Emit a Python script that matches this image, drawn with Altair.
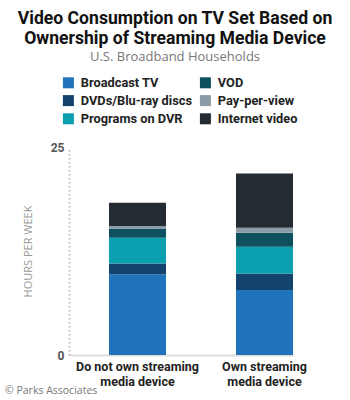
import altair as alt
import pandas as pd

groups = ["Do not own streaming|media device", "Own streaming|media device"]
sources = ["Broadcast TV", "DVDs/Blu-ray discs", "Programs on DVR", "VOD", "Pay-per-view", "Internet video"]
no_device = [9.7, 1.3, 3.1, 1.1, 0.3, 2.8]
own_device = [7.8, 2.0, 3.2, 1.7, 0.6, 6.5]
source_colors = ["#2074bc", "#13426c", "#0aa0b0", "#0e505e", "#8c9ca6", "#252b33"]

rows = []
for g, vals in zip(groups, [no_device, own_device]):
    for i, (s, v) in enumerate(zip(sources, vals)):
        rows.append({"group": g, "source": s, "hours": v, "order": i})
df = pd.DataFrame(rows)

FONT = "Roboto"

bars = alt.Chart(df).mark_bar().encode(
    x=alt.X("group:N", sort=groups,
            scale=alt.Scale(paddingInner=0.551, paddingOuter=0.1575, align=1),
            axis=alt.Axis(title=None, labelExpr="split(datum.label, '|')", labelAngle=0,
                          ticks=False, domainColor="#dddddd", domainWidth=2,
                          labelFont=FONT, labelFontWeight="bold", labelFontSize=12.5,
                          labelColor="#222222", labelPadding=5, labelLineHeight=15)),
    y=alt.Y("hours:Q", stack="zero", scale=alt.Scale(domain=[0, 25], nice=False),
            axis=alt.Axis(values=[0, 25], title="HOURS PER WEEK", grid=False, ticks=False,
                          domainColor="#aaaaaa", domainDash=[1.5, 2.5], domainWidth=1.5,
                          labelFont=FONT, labelFontWeight="bold", labelFontSize=12,
                          labelColor="#555555", labelPadding=5,
                          titleFont="Open Sans", titleFontWeight="normal", titleFontSize=11,
                          titleColor="#999999", titleX=-41, titleY=104, titleAngle=-90,
                          titleAlign="center", titleBaseline="middle")),
    color=alt.Color("source:N", scale=alt.Scale(domain=sources, range=source_colors),
                    legend=alt.Legend(title=None, orient="none", legendX=-7, legendY=-71,
                                      columns=2, symbolType="square", symbolSize=121,
                                      symbolStrokeWidth=0, labelFont=FONT,
                                      labelFontWeight="bold", labelFontSize=12.8,
                                      labelColor="#222222", labelOffset=6, rowPadding=4.2,
                                      columnPadding=6)),
    order=alt.Order("order:Q"),
)

footer = alt.Chart(pd.DataFrame({"t": ["© Parks Associates"]})).mark_text(
    align="left", baseline="middle", font="Open Sans", fontSize=10.5, color="#777777"
).encode(text="t:N", x=alt.value(-64), y=alt.value(244))

chart = alt.layer(bars, footer).properties(
    width=224, height=208,
    autosize="none",
    padding={"left": 69, "top": 147, "right": 57, "bottom": 45},
    title=alt.TitleParams(
        text=["Video Consumption on TV Set Based on", "Ownership of Streaming Media Device"],
        subtitle="U.S. Broadband Households",
        font=FONT, fontSize=17.6, fontWeight="bold", color="#111111", lineHeight=20,
        subtitleFont="Open Sans", subtitleFontSize=13, subtitleColor="#777777",
        subtitlePadding=3, anchor="middle", dx=-6, offset=12,
    ),
).configure_view(stroke=None)

chart.save("out.html", embed_options={"renderer": "svg", "actions": False})
